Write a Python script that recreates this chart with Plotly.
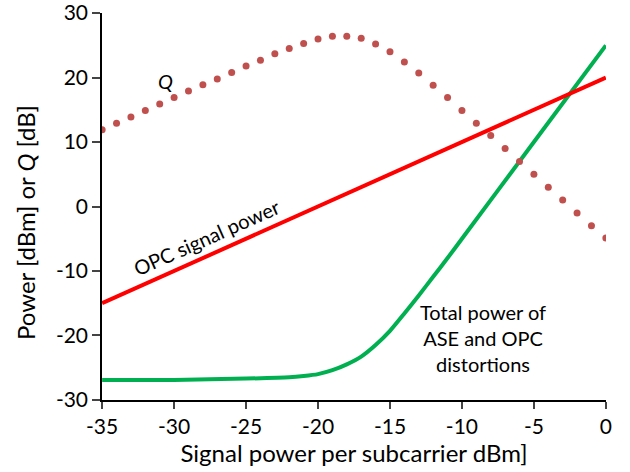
import plotly.graph_objects as go

# Q curve (dotted)
q_x = [-35, -34, -33, -32, -31, -30, -29, -28, -27, -26, -25, -24, -23, -22, -21, -20,
       -19, -18, -17, -16, -15, -14, -13, -12, -11, -10, -9, -8, -7, -6, -5, -4, -3, -2, -1, 0]
q_y = [11.9, 12.9, 13.9, 14.9, 15.9, 16.9, 17.9, 18.9, 19.8, 20.8, 21.8, 22.7, 23.7, 24.5, 25.3, 26.0,
       26.4, 26.4, 26.1, 25.2, 24.0, 22.4, 20.7, 18.8, 16.9, 14.9, 12.9, 11.0, 9.0, 7.0, 5.0, 3.0, 1.0, -1.0, -3.0, -4.9]

# OPC signal power
opc_x = [-35, 0]
opc_y = [-15, 20]

# Total power of ASE and OPC distortions
tot_x = [-35, -30, -25, -22, -21, -20, -19, -18, -17, -16, -15, -14, -13, -12, -11, -10, -5, 0]
tot_y = [-26.9, -26.9, -26.7, -26.5, -26.3, -26.0, -25.4, -24.5, -23.3, -21.5, -19.3, -16.6, -13.8, -10.9, -8.0, -5.0, 10.0, 25.0]

x_ticks = [-35, -30, -25, -20, -15, -10, -5, 0]
x_ticktext = ["-35", "-30", "-25", "-20", "-15", "-10", "-5", "0"]
y_ticks = [-30, -20, -10, 0, 10, 20, 30]
y_ticktext = ["-30", "-20", "-10", "0", "10", "20", "30"]

FONT = "Lato"

fig = go.Figure()
fig.add_trace(go.Scatter(x=tot_x, y=tot_y, mode="lines", line=dict(color="#00B050", width=4, shape="spline", smoothing=0.6)))
fig.add_trace(go.Scatter(x=opc_x, y=opc_y, mode="lines", line=dict(color="#FF0000", width=4)))
fig.add_trace(go.Scatter(x=q_x, y=q_y, mode="markers", marker=dict(color="#C0504D", size=7, line=dict(width=0))))

fig.add_annotation(x=-30.6, y=19.5, text="<i>Q</i>", showarrow=False, font=dict(family=FONT, size=20, color="black"))
fig.add_annotation(x=-27.7, y=-4.8, text="OPC signal power", textangle=-24, showarrow=False,
                   font=dict(family=FONT, size=20, color="black"))
fig.add_annotation(x=-8.55, y=-20.4, text="Total power of<br>ASE and OPC<br>distortions", showarrow=False,
                   font=dict(family=FONT, size=20, color="black"), align="center")
# y-axis title
fig.add_annotation(xref="paper", yref="paper", x=-102/504 + 25/504, y=(400 - 223) / 387,
                   xanchor="center", yanchor="middle", text="Power [dBm] or <i>Q</i> [dB]",
                   textangle=-90, showarrow=False, font=dict(family=FONT, size=24, color="black"))

fig.update_layout(
    width=630, height=472,
    margin=dict(l=102, r=24, t=13, b=72, autoexpand=False),
    plot_bgcolor="white", paper_bgcolor="white",
    showlegend=False,
    font=dict(family=FONT, size=21, color="black"),
)
fig.update_xaxes(range=[-35.01, 0.01], tickvals=x_ticks, ticktext=x_ticktext, ticks="outside", ticklen=7, tickwidth=1.5,
                 showline=True, linecolor="black", linewidth=1.5, showgrid=False, zeroline=False,
                 title=dict(text="Signal power per subcarrier dBm]", font=dict(size=24), standoff=0),
                 tickfont=dict(size=21), ticklabeloverflow="allow", automargin=False)
fig.update_yaxes(range=[-30.02, 30.02], tickvals=y_ticks, ticktext=y_ticktext, ticks="outside", ticklen=8, tickwidth=1.5,
                 showline=True, linecolor="black", linewidth=1.5, showgrid=False, zeroline=False,
                 tickfont=dict(size=21), ticklabeloverflow="allow", automargin=False)

fig.write_html("out.html")
